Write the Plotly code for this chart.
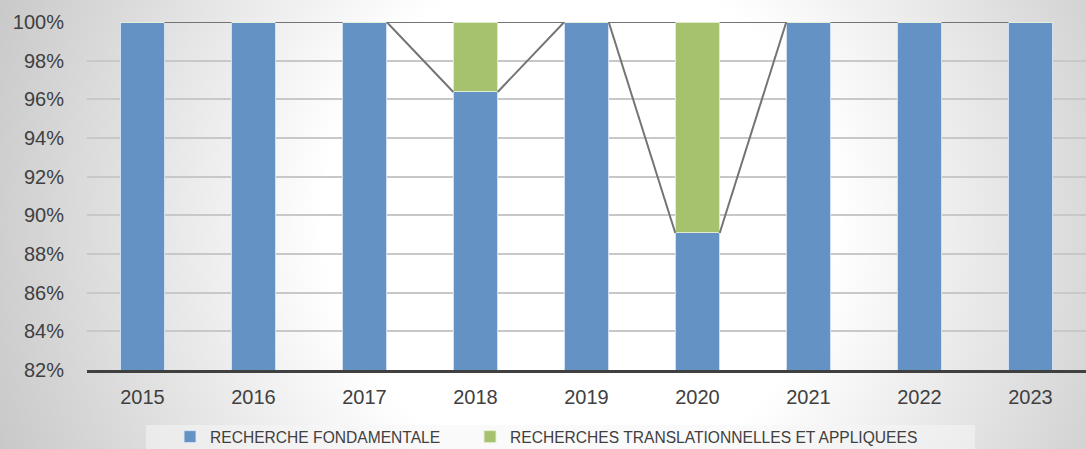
import plotly.graph_objects as go
import urllib.parse

years = ["2015", "2016", "2017", "2018", "2019", "2020", "2021", "2022", "2023"]
fondamentale = [1.0, 1.0, 1.0, 0.9638, 1.0, 0.8909, 1.0, 1.0, 1.0]
translationnelles = [0.0, 0.0, 0.0, 0.0362, 0.0, 0.1091, 0.0, 0.0, 0.0]
y_ticks = [0.82, 0.84, 0.86, 0.88, 0.90, 0.92, 0.94, 0.96, 0.98, 1.00]
y_tick_labels = ["82%", "84%", "86%", "88%", "90%", "92%", "94%", "96%", "98%", "100%"]

W, H = 1086, 449
L, R, T, B = 87, 0, 22, 79
pw, ph = W - L - R, H - T - B

BLUE = "#6592c5"
GREEN = "#a6c26f"
TEXT = "#404040"
FONT = "Liberation Sans, Arial, sans-serif"
bar_w = 0.4

xs = list(range(len(years)))

fig = go.Figure()
fig.add_trace(go.Bar(
    x=xs, y=fondamentale, width=bar_w, name="RECHERCHE FONDAMENTALE",
    marker=dict(color=BLUE, line=dict(color="rgba(220,232,246,0.9)", width=1)),
    legend="legend",
))
fig.add_trace(go.Bar(
    x=xs, y=translationnelles, width=bar_w, name="RECHERCHES TRANSLATIONNELLES ET APPLIQUEES",
    marker=dict(color=GREEN, line=dict(color="rgba(230,240,215,0.9)", width=1)),
    legend="legend2",
))

# Series lines (Excel style) connecting the tops of each stacked segment
tops_blue = fondamentale
tops_green = [a + b for a, b in zip(fondamentale, translationnelles)]
for tops in (tops_green, tops_blue):
    for i in range(len(xs) - 1):
        fig.add_trace(go.Scatter(
            x=[xs[i] + bar_w / 2, xs[i + 1] - bar_w / 2],
            y=[tops[i], tops[i + 1]],
            mode="lines", line=dict(color="#747474", width=2),
            showlegend=False, hoverinfo="skip",
        ))

svg = (
    f'<svg xmlns="http://www.w3.org/2000/svg" width="{W}" height="{H}" viewBox="0 0 {W} {H}" preserveAspectRatio="none">'
    '<defs><radialGradient id="g" gradientUnits="userSpaceOnUse" cx="580" cy="220" r="640">'
    '<stop offset="0" stop-color="#ffffff"/><stop offset="0.4" stop-color="#ffffff"/>'
    '<stop offset="1" stop-color="#c6c6c6"/></radialGradient></defs>'
    f'<rect width="{W}" height="{H}" fill="url(#g)"/></svg>'
)
src = "data:image/svg+xml;charset=utf-8," + urllib.parse.quote(svg)

def px_x(p):
    return (p - L) / pw

def px_y(p):
    return (H - B - p) / ph

legend_common = dict(
    orientation="h", xanchor="left", yanchor="top",
    bgcolor="rgba(0,0,0,0)", font=dict(size=15.6, color=TEXT, family=FONT),
    itemwidth=30,
)

fig.update_layout(
    width=W, height=H,
    margin=dict(l=L, r=R, t=T, b=B, pad=0, autoexpand=False),
    barmode="stack",
    bargap=0.6,
    paper_bgcolor="#d8d8d8",
    plot_bgcolor="rgba(0,0,0,0)",
    font=dict(family=FONT, color=TEXT),
    images=[dict(
        source=src, xref="paper", yref="paper",
        x=px_x(0), y=px_y(0), sizex=W / pw, sizey=H / ph,
        xanchor="left", yanchor="top", sizing="stretch", layer="below",
    )],
    shapes=[dict(
        type="rect", xref="paper", yref="paper",
        x0=px_x(146), x1=px_x(975), y0=px_y(449), y1=px_y(425),
        fillcolor="rgba(245,245,245,0.55)", line=dict(width=0), layer="below",
    )],
    xaxis=dict(
        range=[-0.5, len(years) - 0.5],
        tickmode="array", tickvals=xs, ticktext=years,
        tickfont=dict(size=20, color=TEXT, family=FONT),
        showgrid=False, zeroline=False,
        showline=True, linecolor="#404040", linewidth=3,
        ticks="", ticklabelstandoff=7,
    ),
    yaxis=dict(
        range=[0.82, 1.0],
        tickmode="array", tickvals=y_ticks, ticktext=y_tick_labels,
        tickfont=dict(size=20, color=TEXT, family=FONT),
        showgrid=True, gridcolor="#c8c8c8", gridwidth=1.5,
        zeroline=False, showline=False, ticks="", ticklabelstandoff=22,
    ),
    legend=dict(x=px_x(170), y=px_y(420), **legend_common),
    legend2=dict(x=px_x(470), y=px_y(420), **legend_common),
    showlegend=True,
)

fig.write_html(
    "out.html",
    config={"displayModeBar": False},
    post_script="document.body.style.margin='0';document.body.style.overflow='hidden';",
)
